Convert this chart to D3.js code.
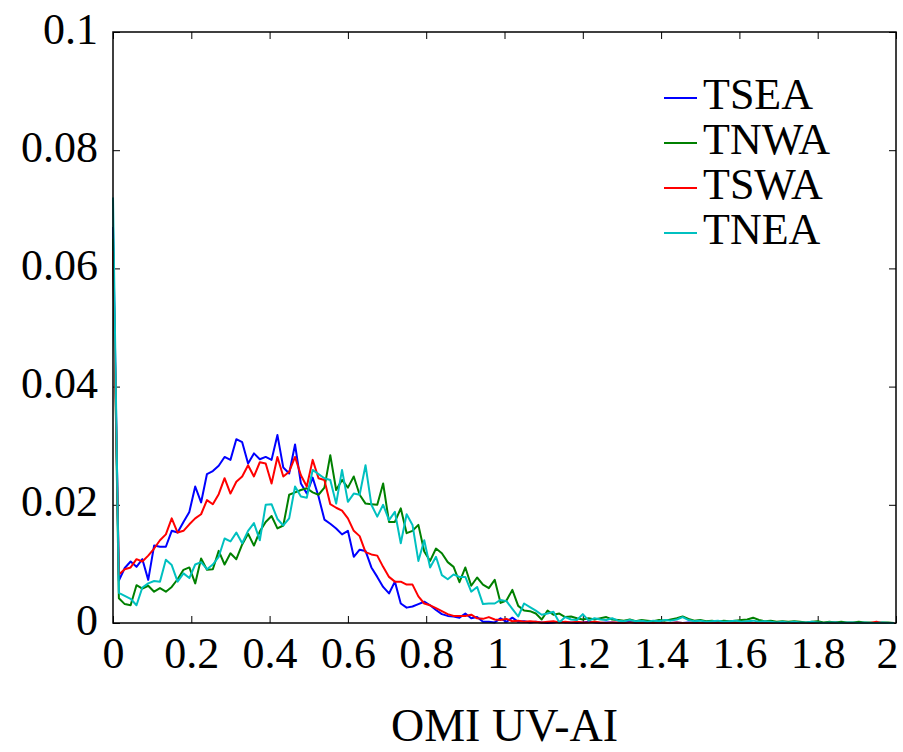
<!DOCTYPE html>
<html>
<head>
<meta charset="utf-8">
<script src="https://cdn.jsdelivr.net/npm/d3@7"></script>
<style>
  body { margin: 0; background: #fff; }
  text { font-family: "Liberation Serif", "Times New Roman", serif; fill: #000; }
</style>
</head>
<body>
<div id="chart"></div>
<script>
// histogram bins start at 0 with a fixed width
const binWidth = 0.015;

const seriesNames = ["TSEA", "TNWA", "TSWA", "TNEA"];
const seriesColors = ["#0000ff", "#008000", "#ff0000", "#00c0c0"];

const xTicks = [0, 0.2, 0.4, 0.6, 0.8, 1, 1.2, 1.4, 1.6, 1.8, 2];
const yTicks = [0, 0.02, 0.04, 0.06, 0.08, 0.1];

const tsea = [
  0.0670, 0.0072, 0.0093, 0.0104, 0.0095, 0.0108, 0.0073, 0.0131, 0.0129, 0.0129,
  0.0156, 0.0153, 0.0171, 0.0188, 0.0231, 0.0204, 0.0252, 0.0257, 0.0266, 0.0281,
  0.0276, 0.0311, 0.0306, 0.0270, 0.0287, 0.0277, 0.0281, 0.0276, 0.0318, 0.0263,
  0.0253, 0.0302, 0.0236, 0.0219, 0.0246, 0.0214, 0.0175, 0.0168, 0.0160, 0.0150,
  0.0156, 0.0112, 0.0124, 0.0122, 0.0094, 0.0078, 0.0061, 0.0050, 0.0070, 0.0033,
  0.0026, 0.0028, 0.0032, 0.0036, 0.0030, 0.0022, 0.0015, 0.0012, 0.0011, 0.0009,
  0.0016, 0.0008, 0.0010, 0.0002, 0.0002, 0.0001, 0.0008, 0.0002, 0.0009, 0.0002,
  0.0003, 0.0001, 0.0002, 0.0001, 0.0000, 0.0001, 0.0002, 0.0001, 0.0001, 0.0000,
  0.0001, 0.0002, 0.0001, 0.0000, 0.0001, 0.0001, 0.0000, 0.0001, 0.0002, 0.0000,
  0.0001, 0.0000, 0.0001, 0.0001, 0.0000, 0.0000, 0.0001, 0.0000, 0.0001, 0.0000,
  0.0000, 0.0001, 0.0000, 0.0000, 0.0001, 0.0000, 0.0000, 0.0000, 0.0001, 0.0000,
  0.0000, 0.0000, 0.0001, 0.0000, 0.0000, 0.0000, 0.0000, 0.0001, 0.0000, 0.0000,
  0.0000, 0.0000, 0.0000, 0.0001, 0.0000, 0.0000, 0.0000, 0.0000, 0.0000, 0.0000,
  0.0000, 0.0000, 0.0000, 0.0000
];

const tnwa = [
  0.0650, 0.0042, 0.0032, 0.0030, 0.0064, 0.0058, 0.0063, 0.0053, 0.0059, 0.0053,
  0.0061, 0.0074, 0.0090, 0.0094, 0.0067, 0.0109, 0.0090, 0.0091, 0.0122, 0.0099,
  0.0118, 0.0108, 0.0133, 0.0151, 0.0131, 0.0155, 0.0171, 0.0181, 0.0160, 0.0165,
  0.0217, 0.0221, 0.0225, 0.0228, 0.0221, 0.0217, 0.0229, 0.0284, 0.0225, 0.0242,
  0.0229, 0.0248, 0.0217, 0.0202, 0.0201, 0.0200, 0.0236, 0.0171, 0.0171, 0.0194,
  0.0152, 0.0156, 0.0166, 0.0121, 0.0105, 0.0126, 0.0118, 0.0103, 0.0095, 0.0069,
  0.0094, 0.0063, 0.0077, 0.0065, 0.0059, 0.0073, 0.0034, 0.0038, 0.0056, 0.0029,
  0.0021, 0.0020, 0.0016, 0.0006, 0.0021, 0.0014, 0.0016, 0.0010, 0.0011, 0.0008,
  0.0006, 0.0008, 0.0006, 0.0008, 0.0010, 0.0006, 0.0005, 0.0004, 0.0006, 0.0003,
  0.0005, 0.0004, 0.0003, 0.0005, 0.0004, 0.0006, 0.0008, 0.0011, 0.0007, 0.0004,
  0.0005, 0.0003, 0.0004, 0.0002, 0.0004, 0.0003, 0.0004, 0.0005, 0.0006, 0.0009,
  0.0005, 0.0003, 0.0004, 0.0002, 0.0003, 0.0002, 0.0003, 0.0002, 0.0001, 0.0002,
  0.0003, 0.0001, 0.0002, 0.0001, 0.0002, 0.0001, 0.0001, 0.0002, 0.0001, 0.0001,
  0.0000, 0.0001, 0.0001, 0.0000
];

const tswa = [
  0.0630, 0.0082, 0.0091, 0.0094, 0.0108, 0.0104, 0.0114, 0.0126, 0.0140, 0.0150,
  0.0177, 0.0153, 0.0156, 0.0167, 0.0177, 0.0184, 0.0208, 0.0201, 0.0218, 0.0245,
  0.0219, 0.0239, 0.0248, 0.0267, 0.0248, 0.0272, 0.0270, 0.0236, 0.0281, 0.0248,
  0.0256, 0.0281, 0.0250, 0.0231, 0.0276, 0.0245, 0.0242, 0.0201, 0.0195, 0.0190,
  0.0177, 0.0156, 0.0147, 0.0120, 0.0116, 0.0114, 0.0095, 0.0078, 0.0070, 0.0070,
  0.0065, 0.0065, 0.0045, 0.0033, 0.0030, 0.0025, 0.0020, 0.0015, 0.0012, 0.0012,
  0.0012, 0.0014, 0.0008, 0.0007, 0.0010, 0.0006, 0.0005, 0.0007, 0.0003, 0.0004,
  0.0002, 0.0003, 0.0002, 0.0001, 0.0002, 0.0003, 0.0001, 0.0002, 0.0001, 0.0002,
  0.0001, 0.0001, 0.0002, 0.0001, 0.0000, 0.0001, 0.0001, 0.0000, 0.0001, 0.0001,
  0.0000, 0.0001, 0.0000, 0.0001, 0.0000, 0.0000, 0.0001, 0.0000, 0.0000, 0.0001,
  0.0000, 0.0000, 0.0000, 0.0001, 0.0000, 0.0000, 0.0000, 0.0000, 0.0001, 0.0000,
  0.0000, 0.0000, 0.0000, 0.0000, 0.0001, 0.0000, 0.0000, 0.0000, 0.0000, 0.0000,
  0.0000, 0.0000, 0.0000, 0.0000, 0.0000, 0.0000, 0.0000, 0.0000, 0.0000, 0.0000,
  0.0002, 0.0000, 0.0000, 0.0000
];

const tnea = [
  0.0720, 0.0051, 0.0046, 0.0041, 0.0030, 0.0060, 0.0067, 0.0071, 0.0070, 0.0107,
  0.0098, 0.0070, 0.0084, 0.0076, 0.0099, 0.0103, 0.0091, 0.0099, 0.0112, 0.0143,
  0.0138, 0.0153, 0.0135, 0.0156, 0.0169, 0.0140, 0.0200, 0.0201, 0.0176, 0.0165,
  0.0177, 0.0231, 0.0214, 0.0212, 0.0259, 0.0252, 0.0245, 0.0242, 0.0202, 0.0259,
  0.0205, 0.0219, 0.0217, 0.0267, 0.0200, 0.0180, 0.0200, 0.0174, 0.0188, 0.0135,
  0.0184, 0.0166, 0.0105, 0.0140, 0.0094, 0.0112, 0.0081, 0.0074, 0.0082, 0.0078,
  0.0078, 0.0053, 0.0061, 0.0032, 0.0033, 0.0033, 0.0039, 0.0037, 0.0024, 0.0011,
  0.0033, 0.0027, 0.0021, 0.0014, 0.0016, 0.0019, 0.0001, 0.0010, 0.0006, 0.0005,
  0.0015, 0.0004, 0.0008, 0.0006, 0.0005, 0.0008, 0.0004, 0.0003, 0.0005, 0.0003,
  0.0004, 0.0002, 0.0004, 0.0003, 0.0005, 0.0004, 0.0006, 0.0010, 0.0005, 0.0003,
  0.0004, 0.0002, 0.0003, 0.0004, 0.0002, 0.0003, 0.0004, 0.0002, 0.0003, 0.0004,
  0.0002, 0.0003, 0.0002, 0.0001, 0.0002, 0.0001, 0.0002, 0.0001, 0.0001, 0.0002,
  0.0001, 0.0000, 0.0001, 0.0001, 0.0000, 0.0001, 0.0001, 0.0000, 0.0001, 0.0000,
  0.0000, 0.0001, 0.0000, 0.0000
];

const seriesValues = [tsea, tnwa, tswa, tnea];

const width = 903;
const height = 752;
const margin = { top: 32, right: 7, bottom: 129, left: 113 };
const innerW = width - margin.left - margin.right;
const innerH = height - margin.top - margin.bottom;

const svg = d3.select("#chart").append("svg")
  .attr("width", width)
  .attr("height", height);

const g = svg.append("g")
  .attr("transform", `translate(${margin.left},${margin.top})`);

const x = d3.scaleLinear().domain([0, 2]).range([0, innerW]);
const y = d3.scaleLinear().domain([0, 0.1]).range([innerH, 0]);

const fmt = d3.format("~g");
const tickLen = 7;

// bottom axis with labels, ticks pointing inward
const xAxis = g.append("g")
  .attr("transform", `translate(0,${innerH})`)
  .call(d3.axisBottom(x).tickValues(xTicks).tickFormat(fmt).tickSizeInner(-tickLen).tickSizeOuter(0));
xAxis.selectAll("text")
  .attr("dy", null)
  .attr("y", 45)
  .style("font-size", "44px");
// the last label sits against the right edge, "1" sits a little left as in the source
xAxis.selectAll("text")
  .filter(d => d === 2)
  .attr("text-anchor", "end")
  .attr("x", 2);
xAxis.selectAll("text")
  .filter(d => d === 1)
  .attr("x", -7);

// top axis, ticks only
g.append("g")
  .call(d3.axisTop(x).tickValues(xTicks).tickFormat("").tickSizeInner(-tickLen).tickSizeOuter(0));

// left axis with labels
const yAxis = g.append("g")
  .call(d3.axisLeft(y).tickValues(yTicks).tickFormat(fmt).tickSizeInner(-tickLen).tickSizeOuter(0));
yAxis.selectAll("text")
  .attr("dy", null)
  .attr("x", -15)
  .attr("y", 11)
  .style("font-size", "44px");

// right axis, ticks only
g.append("g")
  .attr("transform", `translate(${innerW},0)`)
  .call(d3.axisRight(y).tickValues(yTicks).tickFormat("").tickSizeInner(-tickLen).tickSizeOuter(0));

g.selectAll(".domain").remove();
g.selectAll(".tick line").attr("stroke", "#000").attr("stroke-width", 1);

const line = d3.line()
  .x((d, i) => x(i * binWidth))
  .y(d => y(d));

seriesValues.forEach((vals, k) => {
  g.append("path")
    .datum(vals)
    .attr("fill", "none")
    .attr("stroke", seriesColors[k])
    .attr("stroke-width", 2)
    .attr("stroke-linejoin", "round")
    .attr("d", line);
});

// frame
g.append("rect")
  .attr("width", innerW)
  .attr("height", innerH)
  .attr("fill", "none")
  .attr("stroke", "#000")
  .attr("stroke-width", 1.5);

// legend
const legend = svg.append("g").attr("transform", "translate(664,98)");
seriesNames.forEach((name, k) => {
  const row = legend.append("g").attr("transform", `translate(0,${k * 45})`);
  row.append("line")
    .attr("x1", 0).attr("x2", 33)
    .attr("stroke", seriesColors[k])
    .attr("stroke-width", 2);
  row.append("text")
    .attr("x", 39)
    .attr("y", 11)
    .style("font-size", "44px")
    .text(name);
});

// x axis title
svg.append("text")
  .attr("x", margin.left + innerW / 2)
  .attr("y", 741)
  .attr("text-anchor", "middle")
  .style("font-size", "46px")
  .text("OMI UV-AI");
</script>
</body>
</html>
